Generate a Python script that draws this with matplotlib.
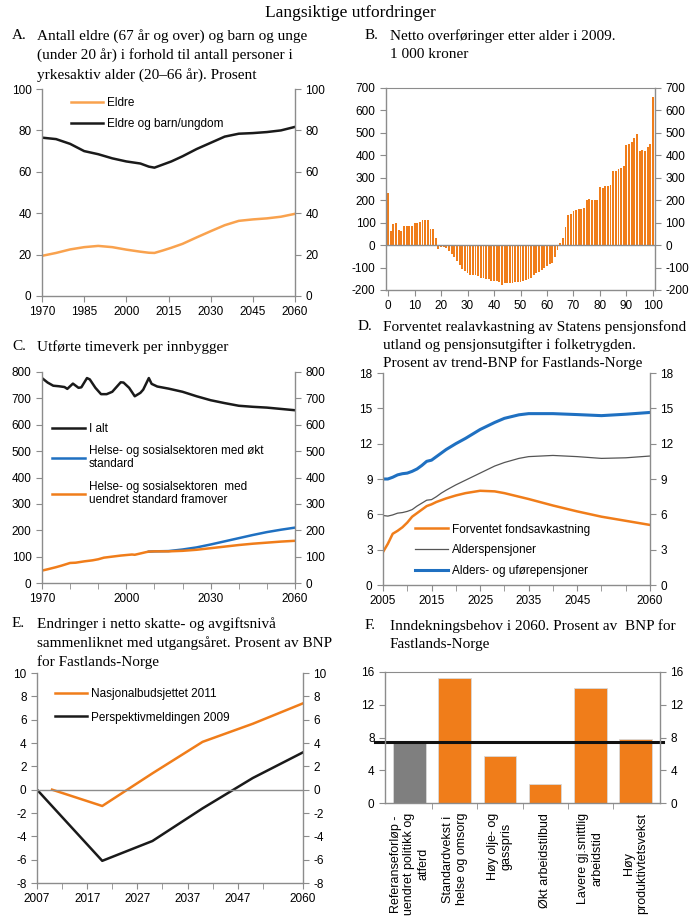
import matplotlib.pyplot as plt
import numpy as np

plt.rcParams['font.family'] = ['Liberation Sans', 'DejaVu Sans']
plt.rcParams['font.size'] = 8
plt.rcParams['axes.unicode_minus'] = False

# A. eldre / barn og unge relative to working age
a_years = [1970, 1975, 1980, 1985, 1990, 1995, 2000, 2005, 2008, 2010, 2013, 2016,
           2020, 2025, 2030, 2035, 2040, 2045, 2050, 2055, 2060]
a_eldre = [19.4, 20.8, 22.5, 23.6, 24.2, 23.6, 22.4, 21.4, 20.9, 20.8, 22.0, 23.3,
           25.2, 28.3, 31.3, 34.2, 36.3, 37.0, 37.5, 38.3, 39.7]
a_total = [76.5, 75.8, 73.5, 70.0, 68.5, 66.5, 65.0, 64.0, 62.5, 62.0, 63.5, 65.0,
           67.5, 71.0, 74.0, 77.0, 78.4, 78.7, 79.2, 80.0, 81.7]

# B. netto overforinger etter alder, 1000 kr
b_age = list(range(0, 101))
b_value = [230, 65, 92, 98, 67, 63, 87, 87, 87, 87,
           100, 100, 102, 110, 110, 110, 70, 70, 30, -18,
           -10, -10, -15, -25, -40, -55, -70, -90, -105, -115,
           -125, -132, -135, -135, -138, -145, -148, -150, -152, -158,
           -160, -162, -163, -178, -168, -170, -168, -168, -165, -165,
           -165, -160, -155, -150, -145, -135, -125, -118, -110, -100,
           -95, -85, -78, -55, -20, 10, 30, 80, 135, 138,
           150, 158, 160, 162, 165, 200, 205, 200, 202, 202,
           260, 255, 265, 262, 270, 330, 332, 340, 345, 352,
           445, 450, 460, 475, 495, 420, 422, 420, 435, 450,
           660]

# C. utforte timeverk per innbygger
c_years = [1970, 1972, 1974, 1976, 1978, 1979, 1981, 1983, 1984, 1986, 1987, 1989,
           1991, 1993, 1995, 1998, 1999, 2001, 2003, 2005, 2006, 2008, 2009, 2011,
           2015, 2020, 2025, 2030, 2035, 2040, 2045, 2050, 2055, 2060]
c_total = [777, 760, 748, 746, 743, 736, 756, 740, 742, 777, 772, 740,
           716, 716, 725, 761, 760, 740, 708, 721, 733, 777, 755, 745,
           737, 725, 708, 693, 682, 672, 668, 665, 660, 655]
c_years_u = [1970, 1972, 1975, 1977, 1980, 1982, 1985, 1988, 1990, 1992, 1995, 1998,
             2000, 2002, 2003, 2005, 2007, 2008, 2010, 2015, 2020, 2025, 2030, 2035,
             2040, 2045, 2050, 2055, 2060]
c_uendret = [47, 52, 60, 66, 76, 77, 82, 86, 90, 96, 100, 104,
             106, 108, 107, 112, 117, 119, 120, 120, 122, 126, 132, 138,
             144, 149, 153, 157, 160]
c_years_o = [2008, 2010, 2015, 2020, 2025, 2030, 2035, 2040, 2045, 2050, 2055, 2060]
c_okt = [119, 120, 121, 127, 135, 146, 158, 170, 182, 193, 202, 210]

# D. fondsavkastning og pensjonsutgifter
d_years = [2005, 2006, 2007, 2008, 2009, 2010, 2011, 2012, 2013, 2014, 2015, 2016,
           2017, 2018, 2020, 2022, 2025, 2028, 2030, 2033, 2035, 2040, 2045, 2050,
           2055, 2060]
d_fond = [2.8, 3.5, 4.35, 4.6, 4.9, 5.3, 5.8, 6.1, 6.4, 6.7, 6.85, 7.05,
          7.2, 7.35, 7.6, 7.8, 8.0, 7.95, 7.8, 7.5, 7.3, 6.75, 6.25, 5.8,
          5.45, 5.1]
d_alder = [5.9, 5.85, 5.95, 6.1, 6.15, 6.25, 6.4, 6.7, 6.95, 7.2, 7.25, 7.5,
           7.8, 8.05, 8.5, 8.9, 9.5, 10.1, 10.4, 10.75, 10.9, 11.0, 10.9, 10.75,
           10.8, 10.95]
d_alder_ufore = [9.0, 9.0, 9.15, 9.35, 9.45, 9.5, 9.65, 9.85, 10.15, 10.5, 10.6, 10.9,
                 11.2, 11.5, 12.0, 12.45, 13.2, 13.8, 14.15, 14.45, 14.55, 14.55, 14.47, 14.38,
                 14.5, 14.65]

# E. endringer i netto skatte- og avgiftsniva
e_years_nb = [2010, 2020, 2030, 2040, 2050, 2060]
e_nb2011 = [0, -1.4, 1.4, 4.1, 5.65, 7.4]
e_years_pm = [2007, 2020, 2030, 2040, 2050, 2060]
e_pm2009 = [0, -6.1, -4.4, -1.6, 1.0, 3.2]

# F. inndekningsbehov i 2060
f_labels = ['Referanseforløp -\nuendret politikk og\natferd',
            'Standardvekst i\nhelse og omsorg',
            'Høy olje- og\ngasspris',
            'Økt arbeidstilbud',
            'Lavere gj.snittlig\narbeidstid',
            'Høy\nproduktivtetsvekst']
f_values = [7.4, 15.3, 5.7, 2.3, 14.1, 7.8]
f_reference = 7.4

orange = '#f07d1a'
light_orange = '#f9a24e'
blue = '#1f70c1'
grey = '#8c8c8c'

W, H = 700, 919
fig = plt.figure(figsize=(7, 9.19), dpi=100)


def box(l, t, r, b):
    return [l / W, 1 - b / H, (r - l) / W, (b - t) / H]


def style(ax, top=False):
    for s in ['left', 'right', 'bottom']:
        ax.spines[s].set_color(grey)
        ax.spines[s].set_linewidth(1)
    ax.spines['top'].set_visible(top)
    ax.spines['top'].set_color(grey)
    ax.tick_params(which='both', direction='out', color=grey, length=4,
                   right=True, labelright=True, labelsize=8.5)


def title(letter, x, y, text, spacing=1.5):
    fig.text(x / W, 1 - y / H, letter, family='Liberation Serif', fontsize=11,
             va='top', ha='left')
    fig.text((x + 25) / W, 1 - y / H, text, family='Liberation Serif', fontsize=11,
             va='top', ha='left', linespacing=spacing)


def legend(ax, x, y, spacing=0.75, hl=2.7):
    ax.legend(loc='upper left', bbox_to_anchor=(x, y), frameon=False,
              borderaxespad=0, borderpad=0, handlelength=hl, handletextpad=0.3,
              labelspacing=spacing, fontsize=8.5)


fig.text(0.5, 1 - 5 / H, 'Langsiktige utfordringer', family='Liberation Serif',
         fontsize=12.5, ha='center', va='top')

# A
ax = fig.add_axes(box(42, 89, 295, 296))
ax.plot(a_years, a_eldre, color=light_orange, lw=1.8, label='Eldre')
ax.plot(a_years, a_total, color='#1a1a1a', lw=1.8, label='Eldre og barn/ungdom')
ax.set_xlim(1970, 2060)
ax.set_ylim(0, 100)
ax.set_xticks([1970, 1985, 2000, 2015, 2030, 2045, 2060])
ax.set_yticks(range(0, 101, 20))
style(ax)
legend(ax, 0.115, 0.96, spacing=0.75)
title('A.', 12, 29, 'Antall eldre (67 år og over) og barn og unge\n(under 20 år) i forhold til antall personer i\nyrkesaktiv alder (20–66 år). Prosent')

# B
ax = fig.add_axes(box(386, 88, 655, 290))
ax.bar(b_age, b_value, width=0.7, color=orange)
ax.axhline(0, color=grey, lw=1)
ax.set_xlim(-0.8, 100.8)
ax.set_ylim(-200, 700)
ax.set_xticks(range(0, 101, 10))
ax.set_yticks(range(-200, 701, 100))
style(ax, top=True)
title('B.', 365, 29, 'Netto overføringer etter alder i 2009.\n1 000 kroner')

# C
ax = fig.add_axes(box(42, 372, 295, 583))
ax.plot(c_years, c_total, color='#1a1a1a', lw=1.8, label='I alt')
ax.plot(c_years_o, c_okt, color=blue, lw=1.8,
        label='Helse- og sosialsektoren med økt\nstandard')
ax.plot(c_years_u, c_uendret, color=orange, lw=1.8,
        label='Helse- og sosialsektoren  med\nuendret standard framover')
ax.set_xlim(1970, 2060)
ax.set_ylim(0, 800)
ax.set_xticks([1970, 2000, 2030, 2060])
ax.set_xticks(range(1980, 2060, 10), minor=True)
ax.set_yticks(range(0, 801, 100))
style(ax)
legend(ax, 0.04, 0.76, spacing=0.85, hl=2.8)
title('C.', 12, 340, 'Utførte timeverk per innbygger')

# D
ax = fig.add_axes(box(383, 373, 650, 585))
ax.plot(d_years, d_fond, color=orange, lw=1.8, label='Forventet fondsavkastning')
ax.plot(d_years, d_alder, color='#555555', lw=0.9, label='Alderspensjoner')
ax.plot(d_years, d_alder_ufore, color=blue, lw=2.2, label='Alders- og uførepensjoner')
ax.set_xlim(2005, 2060)
ax.set_ylim(0, 18)
ax.set_xticks([2005, 2015, 2025, 2035, 2045, 2060])
ax.set_xticks(range(2010, 2060, 5), minor=True)
ax.set_yticks(range(0, 19, 3))
style(ax)
legend(ax, 0.12, 0.29, spacing=0.75, hl=2.8)
title('D.', 358, 320, 'Forventet realavkastning av Statens pensjonsfond\nutland og pensjonsutgifter i folketrygden.\nProsent av trend-BNP for Fastlands-Norge',
      spacing=1.4)

# E
ax = fig.add_axes(box(37, 673, 303, 883))
ax.plot(e_years_nb, e_nb2011, color=orange, lw=1.8, label='Nasjonalbudsjettet 2011')
ax.plot(e_years_pm, e_pm2009, color='#1a1a1a', lw=1.8, label='Perspektivmeldingen 2009')
ax.axhline(0, color=grey, lw=1)
ax.set_xlim(2007, 2060)
ax.set_ylim(-8, 10)
ax.set_xticks([2007, 2017, 2027, 2037, 2047, 2060])
ax.set_xticks(range(2012, 2058, 10), minor=True)
ax.set_yticks(range(-8, 11, 2))
style(ax)
legend(ax, 0.068, 0.93, spacing=1.0, hl=2.7)
title('E.', 12, 617, 'Endringer i netto skatte- og avgiftsnivå\nsammenliknet med utgangsåret. Prosent av BNP\nfor Fastlands-Norge')

# F
ax = fig.add_axes(box(385, 672, 660, 803))
x = np.arange(len(f_values))
colors = ['#7f7f7f'] + [orange] * (len(f_values) - 1)
ax.bar(x, f_values, width=0.72, color=colors, edgecolor='#d9d9d9', linewidth=0.6)
ax.axhline(f_reference, xmin=-0.035, xmax=1.01, color='#111111', lw=2.2, clip_on=False)
ax.set_xlim(-0.54, len(f_values) - 0.46)
ax.set_ylim(0, 16)
ax.set_yticks(range(0, 17, 4))
ax.set_xticks(x)
ax.set_xticklabels(f_labels, rotation=90, ha='center', va='top',
                   multialignment='center')
ax.set_xticks(x[:-1] + 0.5, minor=True)
style(ax, top=True)
ax.tick_params(axis='x', which='major', length=0, pad=7, labelsize=9)
title('F.', 365, 619, 'Inndekningsbehov i 2060. Prosent av  BNP for\nFastlands-Norge')

fig.savefig('out.png', dpi=100)
